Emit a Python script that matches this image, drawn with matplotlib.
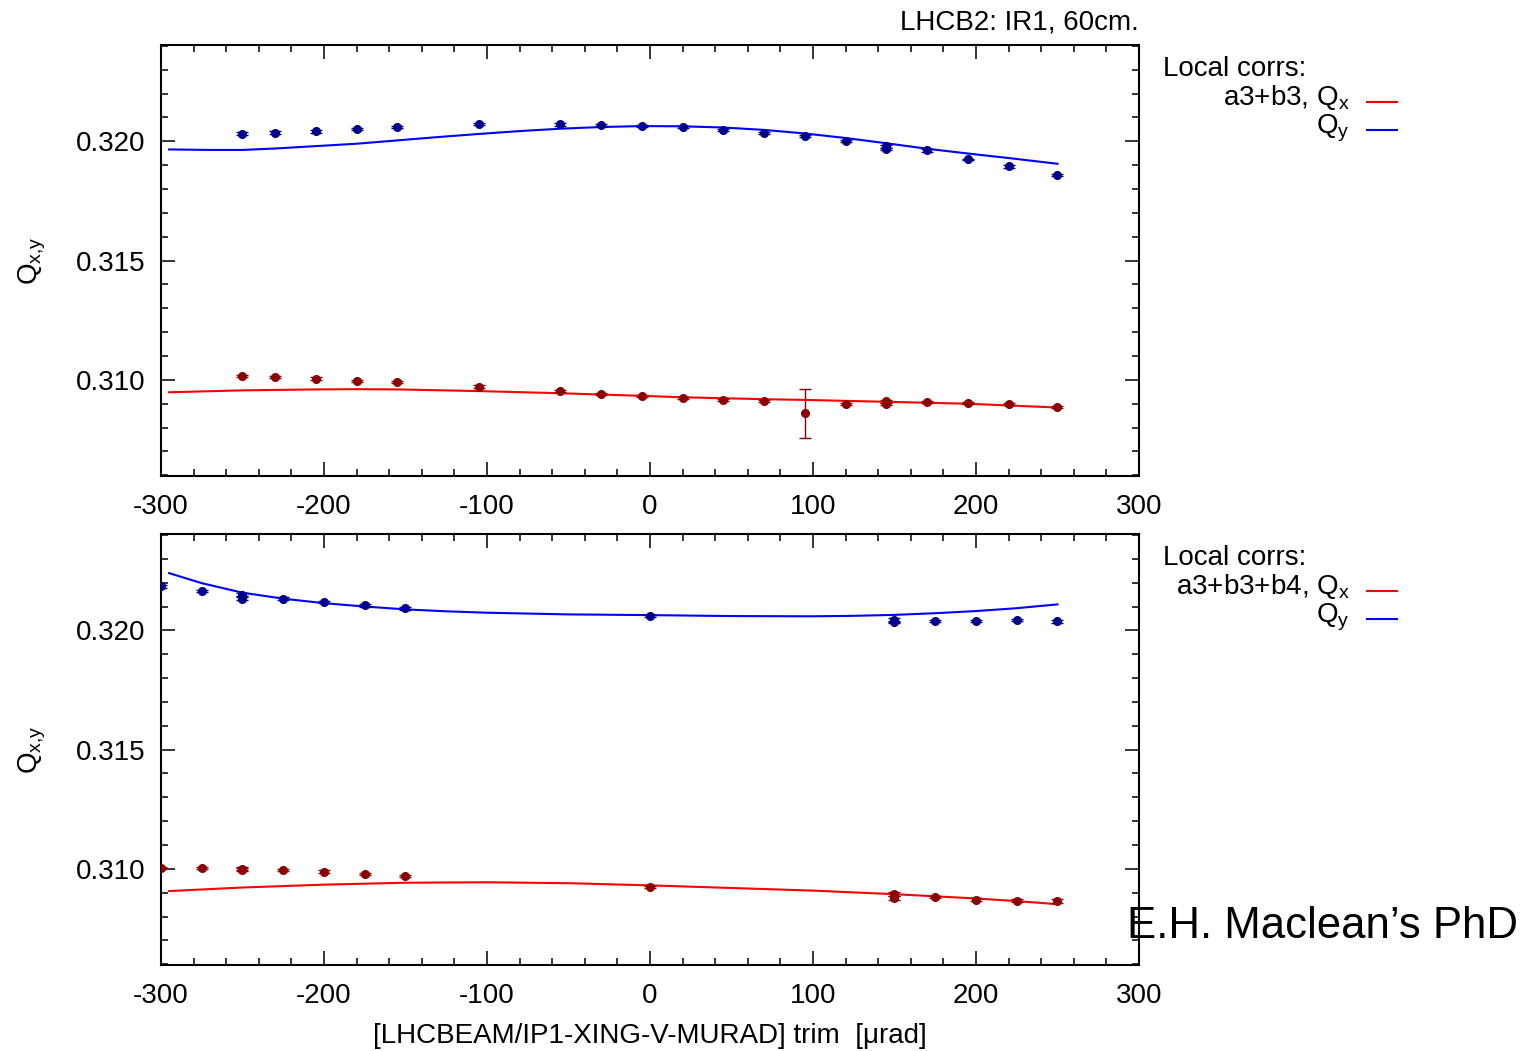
import matplotlib
matplotlib.use('Agg')
import matplotlib.pyplot as plt
from matplotlib.ticker import MultipleLocator, FormatStrFormatter

plt.rcParams['font.family'] = ['Liberation Sans', 'DejaVu Sans']
plt.rcParams['mathtext.default'] = 'regular'
plt.rcParams['axes.unicode_minus'] = False

# ---- top panel: a3+b3 ----
top_qy_x = [-250, -230, -205, -180, -155, -105, -55, -30, -5, 20, 45, 70, 95,
            120, 145, 145, 170, 195, 220, 250]
top_qy = [0.32032, 0.32037, 0.32042, 0.32052, 0.32060, 0.32073, 0.32071,
          0.32069, 0.32066, 0.32059, 0.32049, 0.32035, 0.32022, 0.32003,
          0.31980, 0.31968, 0.31962, 0.31924, 0.31896, 0.31860]
top_qy_err = [0.00006, 0.00006, 0.00005, 0.00006, 0.00006, 0.00005, 0.00005,
              0.00004, 0.00004, 0.00004, 0.00004, 0.00006, 0.00004, 0.00004,
              0.00006, 0.00006, 0.00005, 0.00004, 0.00006, 0.00004]

top_qx_x = top_qy_x
top_qx = [0.310155, 0.310126, 0.310056, 0.309958, 0.309916, 0.30972, 0.30955,
          0.30942, 0.30934, 0.30924, 0.30917, 0.30910, 0.30860, 0.30899,
          0.30910, 0.30898, 0.30906, 0.30902, 0.30899, 0.30887]
top_qx_err = [0.00005, 0.00005, 0.00005, 0.00004, 0.00004, 0.00005, 0.00004,
              0.00004, 0.00004, 0.00004, 0.00004, 0.00004, 0.00102, 0.00004,
              0.00005, 0.00005, 0.00004, 0.00004, 0.00004, 0.00005]

top_fit_qy_x = [-295, -270, -250, -230, -205, -180, -155, -130, -105, -80,
                -55, -30, -5, 20, 45, 70, 95, 120, 145, 170, 195, 220, 250]
top_fit_qy = [0.31966, 0.31964, 0.31964, 0.31970, 0.31980, 0.31990, 0.32004,
              0.32018, 0.32031, 0.32043, 0.32053, 0.32060, 0.32064, 0.32063,
              0.32058, 0.32048, 0.32033, 0.32014, 0.31992, 0.31969, 0.31949,
              0.31930, 0.31906]
top_fit_qx_x = [-295, -250, -205, -180, -155, -105, -55, -5, 20, 70, 95, 145,
                195, 250]
top_fit_qx = [0.30948, 0.30956, 0.30960, 0.30961, 0.30960, 0.30953, 0.30944,
              0.30933, 0.30927, 0.30919, 0.30916, 0.30908, 0.30900, 0.30884]

# ---- bottom panel: a3+b3+b4 ----
bot_x = [-300, -275, -250, -250, -225, -200, -175, -150, 0, 150, 150, 175,
         200, 225, 250]
bot_qy = [0.32185, 0.32164, 0.32149, 0.32133, 0.32133, 0.32118, 0.32105,
          0.32092, 0.32061, 0.32043, 0.32035, 0.32039, 0.32039, 0.32043,
          0.32039]
bot_qy_err = [0.00006, 0.00005, 0.00006, 0.00006, 0.00005, 0.00005, 0.00005,
              0.00005, 0.00004, 0.00007, 0.00006, 0.00005, 0.00005, 0.00004,
              0.00006]
bot_qx = [0.31003, 0.31005, 0.31001, 0.30996, 0.30995, 0.30989, 0.30979,
          0.30969, 0.30926, 0.30895, 0.30877, 0.30883, 0.30870, 0.30867,
          0.30865]
bot_qx_err = [0.00005, 0.00005, 0.00006, 0.00006, 0.00005, 0.00005, 0.00005,
              0.00004, 0.00004, 0.00008, 0.00008, 0.00004, 0.00006, 0.00006,
              0.00007]

bot_fit_qy_x = [-295, -275, -250, -225, -200, -175, -150, -125, -100, -50, 0,
                50, 100, 125, 150, 175, 200, 225, 250]
bot_fit_qy = [0.32240, 0.32198, 0.32158, 0.32133, 0.32114, 0.32100, 0.32088,
              0.32080, 0.32074, 0.32067, 0.32064, 0.32060, 0.32059, 0.32061,
              0.32065, 0.32072, 0.32081, 0.32093, 0.32109]
bot_fit_qx_x = [-295, -250, -200, -150, -100, -50, 0, 50, 100, 150, 200, 225,
                250]
bot_fit_qx = [0.30907, 0.30922, 0.30934, 0.30942, 0.30944, 0.30940, 0.30931,
              0.30920, 0.30909, 0.30894, 0.30876, 0.30865, 0.30852]

xticks = [-300, -200, -100, 0, 100, 200, 300]
yticks = [0.310, 0.315, 0.320]

FS = 20


def style_axes(ax):
    ax.set_xlim(-300, 300)
    ax.set_ylim(0.30597, 0.32404)
    ax.set_xticks(xticks)
    ax.set_yticks(yticks)
    ax.xaxis.set_minor_locator(MultipleLocator(20))
    ax.yaxis.set_minor_locator(MultipleLocator(0.001))
    ax.yaxis.set_major_formatter(FormatStrFormatter('%.3f'))
    ax.tick_params(which='both', direction='in', top=True, right=True,
                   width=1.1, labelsize=FS)
    ax.tick_params(which='major', length=10)
    ax.tick_params(which='minor', length=5)
    ax.tick_params(axis='x', pad=13)
    ax.tick_params(axis='y', pad=11)
    for s in ax.spines.values():
        s.set_linewidth(1.5)
    ax.set_ylabel('Q$_{x{,}y}$', fontsize=FS, labelpad=20)


def draw_panel(ax, qx_x, qx, qx_err, qy_x, qy, qy_err, fx_x, fx, fy_x, fy,
               corr):
    ax.errorbar(qy_x, qy, yerr=qy_err, fmt='o', color='#00008b', ms=5.5,
                elinewidth=1, capsize=4.5, capthick=1, zorder=3)
    ax.errorbar(qx_x, qx, yerr=qx_err, fmt='o', color='#8b0000', ms=5.5,
                elinewidth=1, capsize=4.5, capthick=1, zorder=3)
    ax.plot(fx_x, fx, color='#ff0000', lw=1.5, zorder=2)
    ax.plot(fy_x, fy, color='#0000ff', lw=1.5, zorder=2)
    # gnuplot-style key on the right of the panel
    ax.text(1.0245, 0.928, 'Local corrs:', transform=ax.transAxes,
            fontsize=FS, va='baseline', ha='left')
    ax.text(1.2157, 0.860, corr + ', Q$_x$', transform=ax.transAxes,
            fontsize=FS, va='baseline', ha='right')
    ax.text(1.2157, 0.795, 'Q$_y$', transform=ax.transAxes,
            fontsize=FS, va='baseline', ha='right')
    ax.plot([1.2331, 1.2638], [0.868, 0.868], color='#ff0000', lw=1.5,
            transform=ax.transAxes, clip_on=False)
    ax.plot([1.2331, 1.2638], [0.8035, 0.8035], color='#0000ff', lw=1.5,
            transform=ax.transAxes, clip_on=False)


fig = plt.figure(figsize=(15.27, 10.51), dpi=100)
ax1 = fig.add_axes([0.1054, 0.5471, 0.6405, 0.4101])
ax2 = fig.add_axes([0.1054, 0.0818, 0.6405, 0.4101])

draw_panel(ax1, top_qx_x, top_qx, top_qx_err, top_qy_x, top_qy, top_qy_err,
           top_fit_qx_x, top_fit_qx, top_fit_qy_x, top_fit_qy, 'a3+b3')
draw_panel(ax2, bot_x, bot_qx, bot_qx_err, bot_x, bot_qy, bot_qy_err,
           bot_fit_qx_x, bot_fit_qx, bot_fit_qy_x, bot_fit_qy, 'a3+b3+b4')
style_axes(ax1)
style_axes(ax2)

ax1.set_title('LHCB2: IR1, 60cm.', loc='right', fontsize=FS, pad=11)
ax2.set_xlabel('[LHCBEAM/IP1-XING-V-MURAD] trim  [\u03bcrad]', fontsize=FS,
               labelpad=10)

fig.text(0.738, 0.1075, 'E.H. Maclean\u2019s PhD', fontsize=31.5,
         va='baseline', ha='left', zorder=10)

plt.savefig('out.png', dpi=100)
plt.close()
